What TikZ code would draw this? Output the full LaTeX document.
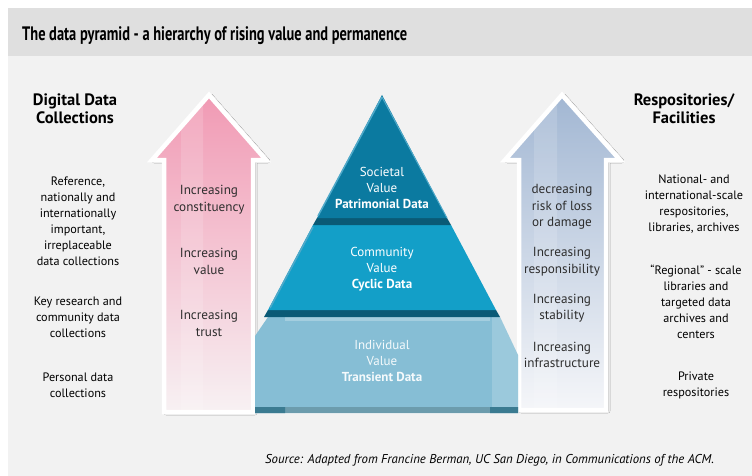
\documentclass[tikz,border=0pt]{standalone}
\usepackage{fontspec}
\setmainfont{PT Sans}
\newfontfamily\titlefont[FakeStretch=0.74]{PT Sans}
\usetikzlibrary{shadows.blur}

\definecolor{bandgray}{HTML}{DFDFDF}
\definecolor{pagegray}{HTML}{F2F2F2}
\definecolor{inkgray}{HTML}{2E2E2E}
\definecolor{pinktop}{HTML}{F19AB4}
\definecolor{pinkbot}{HTML}{F7F1F3}
\definecolor{bluetop}{HTML}{A2B7D3}
\definecolor{bluebot}{HTML}{F5F6F9}
\definecolor{tiertop}{HTML}{0B7AA0}
\definecolor{tiermid}{HTML}{139FC8}
\definecolor{tierlow}{HTML}{86BED5}
\definecolor{tierband}{HTML}{0A5A76}
\definecolor{tieredge}{HTML}{4FA9C9}

\begin{document}
\begin{tikzpicture}[x=1pt,y=-1pt,
    txt/.style={align=center, text=black, font=\fontsize{12.2}{16}\selectfont},
    arrowtext/.style={align=center, text=inkgray, font=\fontsize{13.2}{16.5}\selectfont},
    head/.style={align=center, text=black, font=\fontsize{16.5}{18}\selectfont\bfseries},
    tiertext/.style={align=center, text=white, font=\fontsize{13}{16}\selectfont},
    uparrow/.style={draw=white, line width=4.5pt, line join=miter,
        blur shadow={shadow xshift=2pt, shadow yshift=-1pt, shadow blur steps=6, shadow opacity=35}}]

	% page and title band
	\useasboundingbox (0,0) rectangle (752,476);
	\fill[white] (0,0) rectangle (752,476);
	\fill[pagegray] (8,56) rectangle (752,476);
	\fill[bandgray] (8,8) rectangle (752,56);
	\node[anchor=base west, inner sep=0pt, font=\titlefont\fontsize{19.5}{22}\selectfont\bfseries] (title) at (22,41)
		{The data pyramid - a hierarchy of rising value and permanence};

	% left arrow
	\path[uparrow, top color=pinktop, bottom color=pinkbot]
		(209,95) -- (266,160) -- (253,160) -- (253,412) -- (164,412) -- (164,160) -- (152,160) -- cycle;
	\fill[white, opacity=0.15] (181,124) -- (203,100) -- (203,410) -- (181,410) -- cycle;

	% right arrow
	\path[uparrow, top color=bluetop, bottom color=bluebot]
		(562,95) -- (620,160) -- (606,160) -- (606,410) -- (519,410) -- (519,160) -- (505,160) -- cycle;
	\fill[white, opacity=0.15] (534,126) -- (557,101) -- (557,408) -- (534,408) -- cycle;

	% pyramid tiers
	\fill[tierlow] (268,317) -- (500,317) -- (518,355) -- (518,413) -- (255,413) -- (255,336) -- cycle;
	\fill[white, opacity=0.18] (492,317) -- (500,317) -- (518,355) -- (518,413) -- (492,413) -- cycle;
	\fill[white, opacity=0.25] (285,317) rectangle (490,321);
	\fill[tierband!60] (255,407) rectangle (518,413);
	\fill[tierband!80] (255,407) rectangle (285,413) (490,407) rectangle (518,413);
	\fill[tierband] (268,310) -- (496,310) -- (500,317) -- (264,317) -- cycle;
	\fill[tiermid] (313,225) -- (451,225) -- (496,310) -- (268,310) -- cycle;
	\fill[tierband] (317,218) -- (447,218) -- (451,225) -- (313,225) -- cycle;
	\fill[tiertop] (382,95) -- (447,218) -- (317,218) -- cycle;
	\draw[tieredge, line width=1.5pt] (382,97) -- (318,216);
	\draw[tieredge, line width=1.5pt] (313,227) -- (270,308);
	\draw[tieredge, line width=1pt] (447,218) -- (382,97);

	% tier labels
	\node[tiertext] (societal) at (382,188) {Societal\\Value\\\textbf{Patrimonial Data}};
	\node[tiertext] (community) at (382,269) {Community\\Value\\\textbf{Cyclic Data}};
	\node[tiertext, text=white!92!tierlow] (individual) at (382,361) {Individual\\Value\\\textbf{Transient Data}};

	% texts in the arrows
	\node[arrowtext] (constituency) at (209,199.5) {Increasing\\constituency};
	\node[arrowtext] (value) at (209,261.5) {Increasing\\value};
	\node[arrowtext] (trust) at (209,323.5) {Increasing\\trust};
	\node[arrowtext] (risk) at (562,207) {decreasing\\risk of loss\\or damage};
	\node[arrowtext] (responsibility) at (562,261.5) {Increasing\\responsibility};
	\node[arrowtext] (stability) at (562,308) {Increasing\\stability};
	\node[arrowtext] (infrastructure) at (562,355) {Increasing\\infrastructure};

	% left column
	\node[head] (collections) at (75,109) {Digital Data\\Collections};
	\node[txt] (reference) at (78,221) {Reference,\\nationally and\\internationally\\important,\\irreplaceable\\data collections};
	\node[txt] (keyresearch) at (78,317) {Key research and\\community data\\collections};
	\node[txt] (personal) at (78,385) {Personal data\\collections};

	% right column
	\node[head] (facilities) at (684,109) {Respositories/\\Facilities};
	\node[txt] (national) at (694,204) {National- and\\international-scale\\respositories,\\libraries, archives};
	\node[txt] (regional) at (696,301.5) {``Regional'' - scale\\libraries and\\targeted data\\archives and\\centers};
	\node[txt] (private) at (696,385) {Private\\respositories};

	% source line
	\node[anchor=base west, inner sep=0pt, font=\fontsize{12.8}{14}\selectfont\itshape] (source) at (265,463)
		{Source: Adapted from Francine Berman, UC San Diego, in Communications of the ACM.};

\end{tikzpicture}
\end{document}
